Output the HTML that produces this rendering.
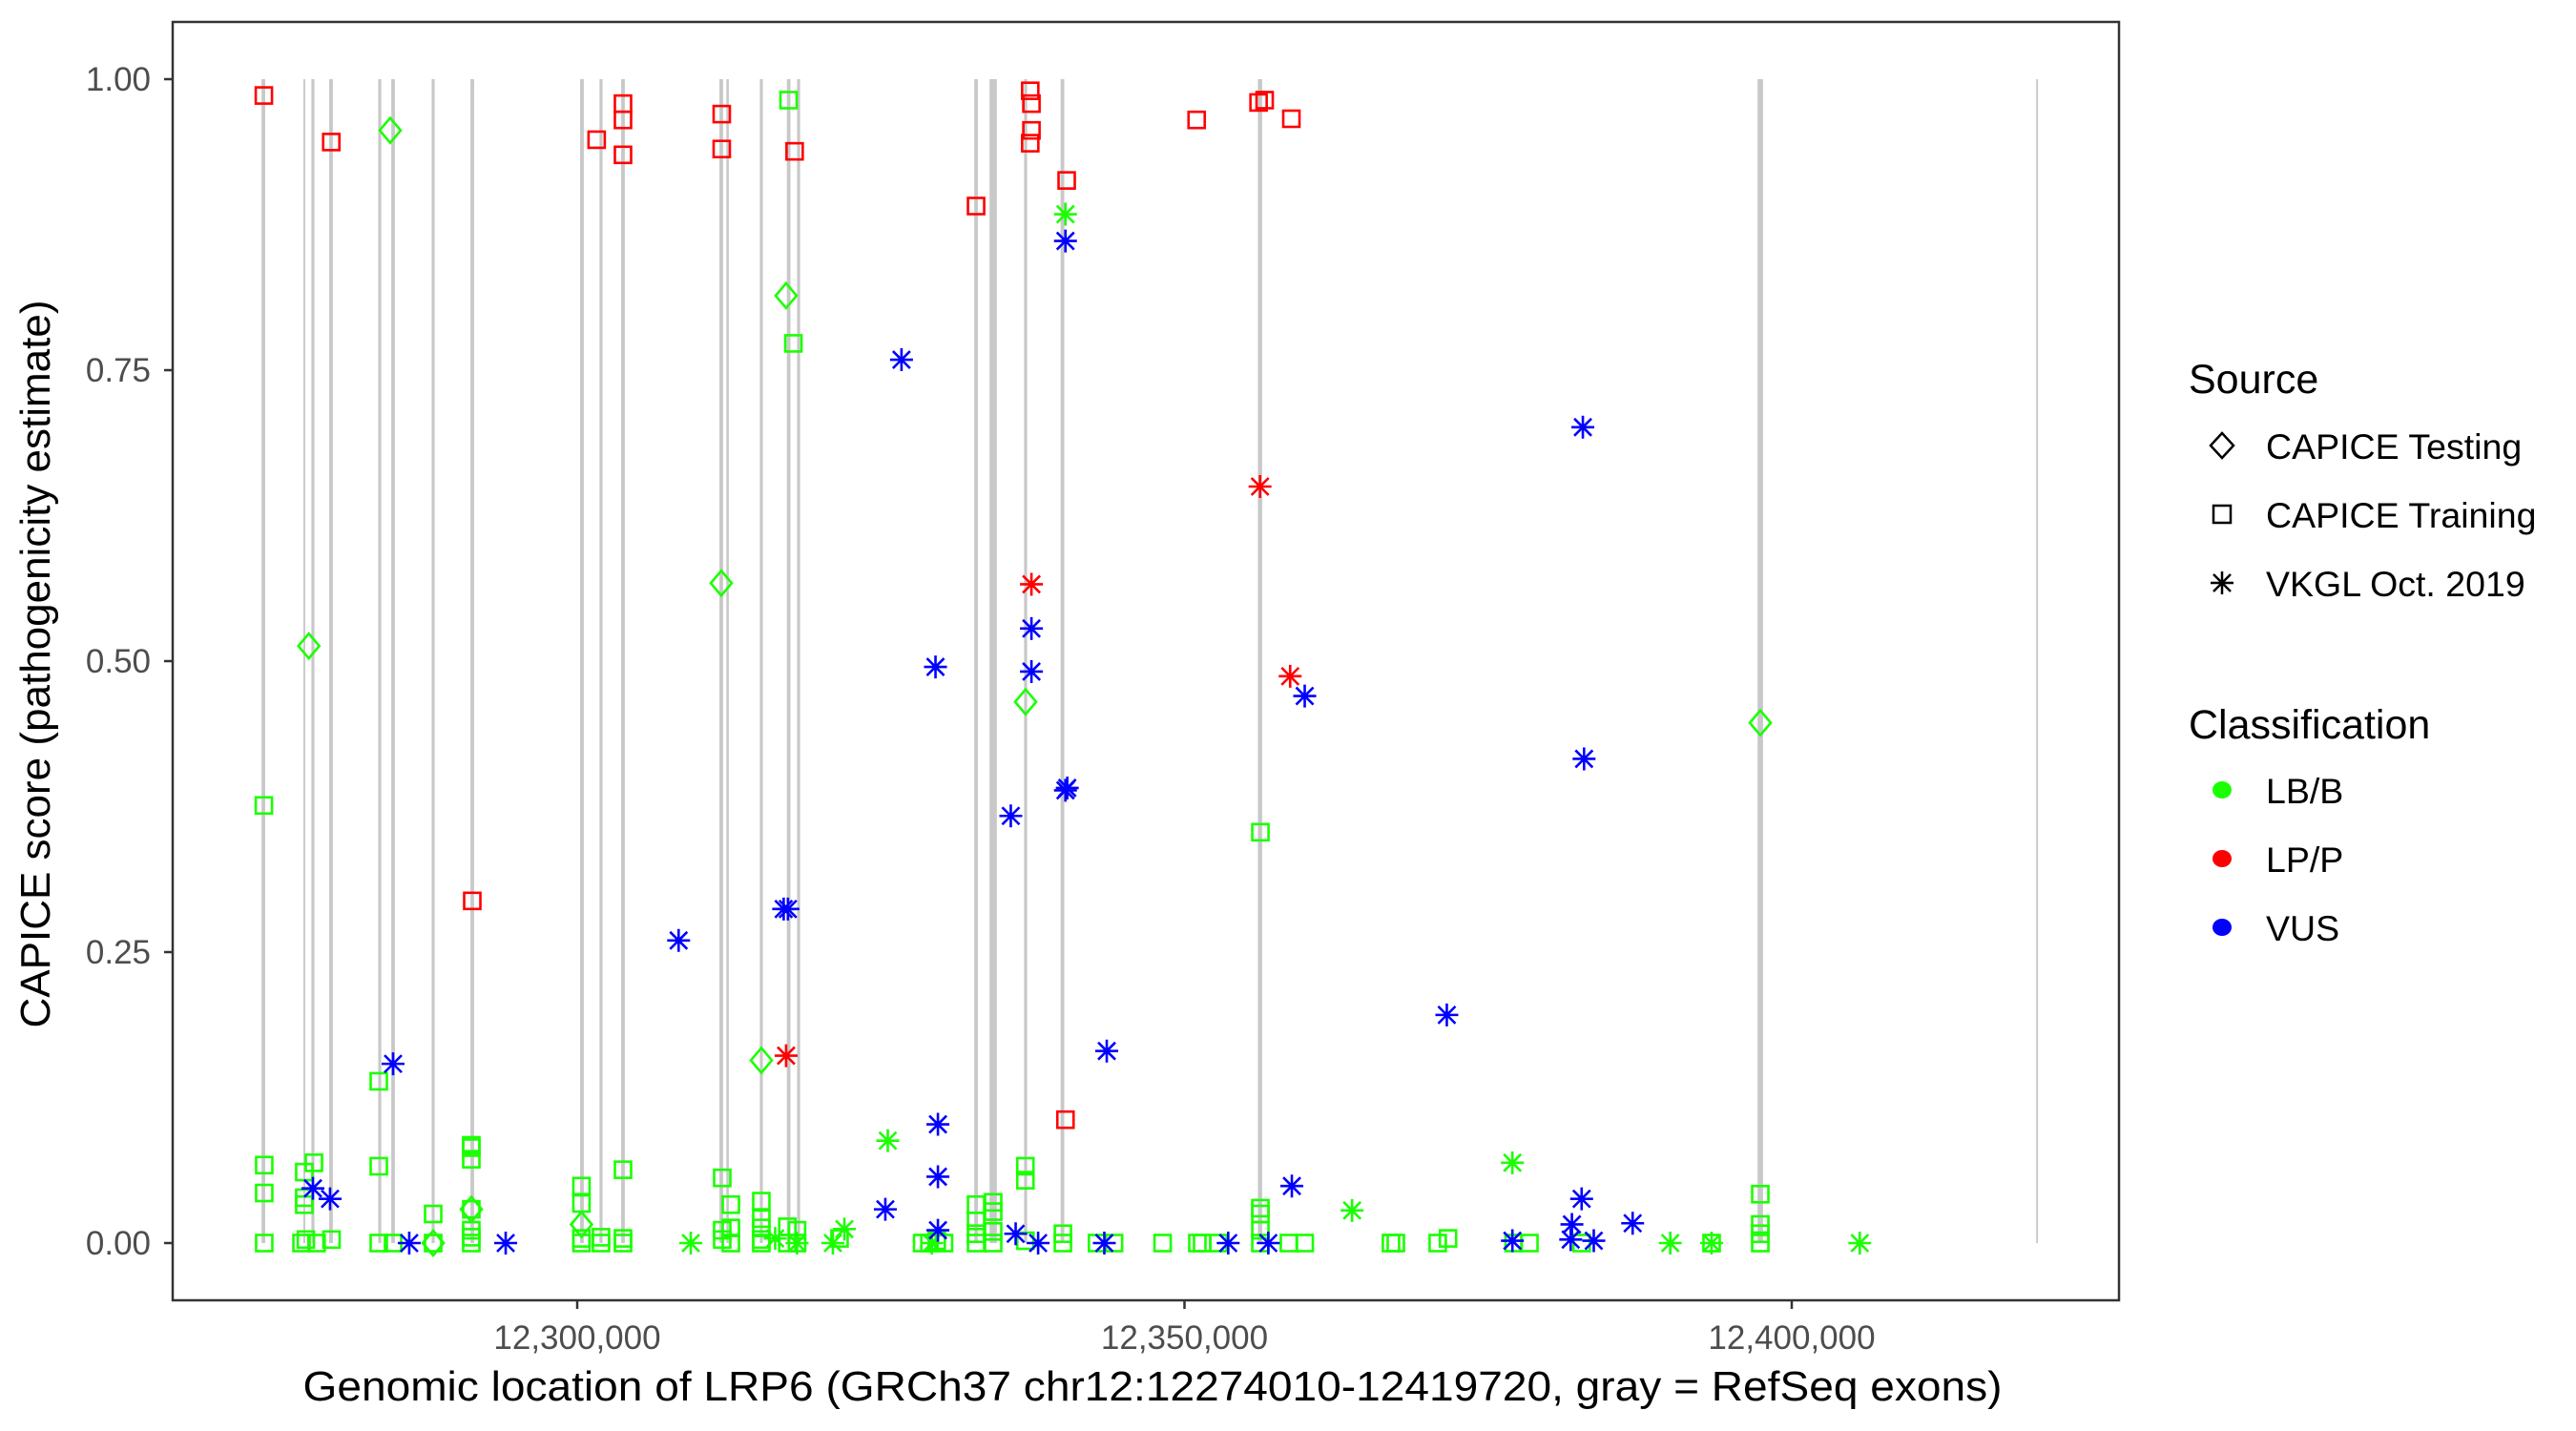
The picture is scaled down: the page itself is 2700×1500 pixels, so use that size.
<!DOCTYPE html>
<html><head><meta charset="utf-8"><style>
html,body{margin:0;padding:0;background:#fff}
svg{display:block;font-family:"Liberation Sans",sans-serif}
</style></head><body>
<svg id="chart" width="2700" height="1500" viewBox="0 0 2700 1500">
<rect x="0" y="0" width="2700" height="1500" fill="#fff"/>
<g id="exons"></g>
<g id="points"></g>
<rect x="181" y="23" width="2040" height="1340" fill="none" stroke="#333" stroke-width="2.5"/>
<g id="yaxis"></g>
<g id="xaxis"></g>
<text x="0" y="0" transform="translate(52,696) rotate(-90)" text-anchor="middle" font-size="44" fill="#000">CAPICE score (pathogenicity estimate)</text>
<text x="1208" y="1468" text-anchor="middle" font-size="44" fill="#000" textLength="1781" lengthAdjust="spacingAndGlyphs">Genomic location of LRP6 (GRCh37 chr12:12274010-12419720, gray = RefSeq exons)</text>
<g>
<text x="2294" y="412" font-size="43" fill="#000">Source</text>
<g><path d="M2329,454 L2341,467 L2329,480 L2317,467 Z" fill="none" stroke="#000" stroke-width="2.5"/><text x="2375" y="481" font-size="37.5">CAPICE Testing</text></g>
<g><rect x="2320" y="530" width="18" height="18" fill="none" stroke="#000" stroke-width="2.5"/><text x="2375" y="553" font-size="37.5">CAPICE Training</text></g>
<g><path d="M2317,611 H2341 M2329,599 V623 M2320,602 L2338,620 M2338,602 L2320,620" stroke="#000" stroke-width="2.5"/><text x="2375" y="625" font-size="37.5">VKGL Oct. 2019</text></g>
<text x="2294" y="774" font-size="43" fill="#000">Classification</text>
<g><ellipse cx="2329" cy="828" rx="10" ry="9" fill="#1aff00"/><text x="2375" y="842" font-size="37.5">LB/B</text></g>
<g><ellipse cx="2329" cy="900" rx="10" ry="9" fill="#ff0000"/><text x="2375" y="914" font-size="37.5">LP/P</text></g>
<g><ellipse cx="2329" cy="972" rx="10" ry="9" fill="#0000ff"/><text x="2375" y="986" font-size="37.5">VUS</text></g>
</g>
</svg>
<script>
// ---- data (genomic position in kb, CAPICE score) ----
const exonPos = [12274.16,12277.53,12278.24,12279.73,12283.74,12284.84,12288.14,12291.36,12300.39,12301.96,12303.77,12311.86,12312.38,12315.16,12317.41,12318.23,12332.84,12334.1,12334.4,12336.92,12339.95,12356.22,12397.41,12420.2];
const exonLen = [0.3,0.15,0.25,0.3,0.25,0.3,0.25,0.3,0.3,0.25,0.3,0.3,0.2,0.25,0.3,0.25,0.3,0.3,0.3,0.25,0.3,0.35,0.45,0.15];
const xTicks = [12300000,12350000,12400000];
const xTickLabels = ["12,300,000","12,350,000","12,400,000"];
const yTicks = [0,0.25,0.5,0.75,1];
const yTickLabels = ["0.00","0.25","0.50","0.75","1.00"];

const trainLBBPos = [12317.4,12317.8,12274.2,12283.66,12356.25,12274.23,12274.23,12274.23,12277.53,12278.32,12277.53,12277.53,12277.30,12277.66,12278.54,12279.77,12283.66,12283.66,12284.84,12288.14,12288.14,12291.28,12291.28,12291.28,12291.28,12291.28,12291.28,12291.28,12300.35,12300.35,12300.35,12300.35,12301.96,12301.96,12303.77,12303.77,12303.77,12311.94,12311.94,12311.94,12312.65,12312.65,12312.65,12315.16,12315.16,12315.16,12315.16,12315.16,12317.3,12318.1,12317.3,12318.1,12321.6,12328.4,12329.0,12329.6,12330.2,12332.84,12332.84,12332.84,12332.84,12334.25,12334.25,12334.25,12334.25,12336.9,12336.9,12336.9,12339.99,12339.99,12342.8,12344.2,12348.2,12351.06,12351.45,12352.8,12356.25,12356.25,12356.25,12356.25,12358.6,12359.9,12367.0,12367.4,12370.85,12371.7,12377.1,12378.4,12382.7,12393.4,12397.41,12397.41,12397.41,12397.41];
const trainLBBScore = [0.982,0.773,0.376,0.139,0.353,0.067,0.043,0,0.061,0.069,0.039,0.033,0,0.003,0,0.003,0.066,0,0,0.025,0,0.084,0.082,0.072,0.029,0.011,0.005,0,0.049,0.034,0.004,0,0.005,0,0.063,0.004,0,0.056,0.011,0.003,0.033,0.013,0,0.036,0.021,0.013,0.003,0,0.014,0.011,0,0,0.004,0,0,0.002,0,0.033,0.019,0.008,0,0.035,0.027,0.010,0,0.066,0.054,0.002,0.008,0,0,0,0,0,0,0,0.030,0.025,0.011,0,0,0,0,0,0,0.004,0,0,0,0,0.042,0.016,0.008,0];

const trainLPPPos = [12274.2,12279.75,12301.6,12303.77,12303.77,12303.77,12311.9,12311.9,12317.9,12332.84,12337.3,12337.4,12337.4,12337.3,12340.3,12351.0,12356.1,12356.6,12358.8,12291.36,12340.2];
const trainLPPScore = [0.986,0.946,0.948,0.979,0.965,0.935,0.970,0.940,0.938,0.891,0.990,0.979,0.956,0.945,0.913,0.965,0.980,0.982,0.966,0.294,0.106];

const testLBBPos = [12284.6,12277.9,12311.86,12317.2,12315.16,12336.92,12397.41,12291.28,12288.14,12300.35];
const testLBBScore = [0.956,0.513,0.567,0.814,0.157,0.465,0.447,0.029,0,0.016];

const vkglLBBPos = [12340.2,12325.57,12322.0,12321.05,12309.35,12316.3,12318.1,12329.2,12363.8,12377.0,12390.0,12393.4,12405.6];
const vkglLBBScore = [0.884,0.088,0.012,0,0,0.004,0,0,0.028,0.069,0,0,0];

const vkglLPPPos = [12317.2,12337.4,12356.22,12358.7];
const vkglLPPScore = [0.161,0.566,0.650,0.487];

const vkglVUSPos = [12284.84,12278.24,12279.65,12286.17,12294.11,12308.35,12317.0,12317.35,12326.7,12329.5,12335.7,12337.4,12337.4,12340.2,12340.2,12340.35,12343.6,12329.7,12329.7,12325.37,12329.7,12336.1,12337.95,12343.4,12353.6,12356.9,12358.84,12359.9,12371.6,12377.0,12382.8,12382.9,12382.7,12381.9,12381.8,12383.7,12386.9];
const vkglVUSScore = [0.154,0.047,0.038,0,0,0.260,0.287,0.287,0.759,0.495,0.367,0.528,0.491,0.861,0.389,0.391,0.165,0.102,0.057,0.029,0.011,0.008,0,0,0,0,0.049,0.470,0.196,0.002,0.701,0.416,0.038,0.016,0.003,0.002,0.017];

// ---- scales ----
const NS = "http://www.w3.org/2000/svg";
function xScale(kb){ return 605 + (kb - 12300) * 12.73; }
function yScale(v){ return 1303 - v * 1220; }
function mk(tag, attrs, parent){ const e=document.createElementNS(NS,tag); for(const k in attrs) e.setAttribute(k,attrs[k]); parent.appendChild(e); return e; }

// exons
const gEx = document.getElementById('exons');
exonPos.forEach((p,i)=>{
  const w = Math.max(exonLen[i]*12.73, 1.8);
  const r = mk('rect',{x:xScale(p)-w/2,y:yScale(1),width:w,height:yScale(0)-yScale(1),fill:'#c8c8c8'},gEx);
  
  
});

// axes
const gy = document.getElementById('yaxis');
yTicks.forEach((t,i)=>{
  const y=yScale(t);
  const l=mk('line',{x1:172,x2:181,y1:y,y2:y,stroke:'#333','stroke-width':2.5},gy);
  
  
  const tx=mk('text',{x:158,y:y+12,'text-anchor':'end','font-size':35,fill:'#4d4d4d'},gy);
  tx.textContent=yTickLabels[i];
  
  
});
const gx = document.getElementById('xaxis');
xTicks.forEach((t,i)=>{
  const x=xScale(t/1000);
  const l=mk('line',{x1:x,x2:x,y1:1363,y2:1372,stroke:'#333','stroke-width':2.5},gx);
  
  
  const tx=mk('text',{x:x,y:1414,'text-anchor':'middle','font-size':35,fill:'#4d4d4d'},gx);
  tx.textContent=xTickLabels[i];
  
  
});

// points
const gp = document.getElementById('points');
const COL = {lbb:'#1aff00', lpp:'#ff0000', vus:'#0000ff'};
function square(x,y,c){ return mk('rect',{x:x-8.5,y:y-8.5,width:17,height:17,fill:'none',stroke:c,'stroke-width':2.6},gp); }
function diamond(x,y,c){ return mk('path',{d:`M${x},${y-13} L${x+11},${y} L${x},${y+13} L${x-11},${y} Z`,fill:'none',stroke:c,'stroke-width':2.6},gp); }
function star(x,y,c){ const s=12, d=9; return mk('path',{d:`M${x-s},${y} H${x+s} M${x},${y-s} V${y+s} M${x-d},${y-d} L${x+d},${y+d} M${x+d},${y-d} L${x-d},${y+d}`,fill:'none',stroke:c,'stroke-width':2.6},gp); }
function drawSet(pos,score,fn,color,name){
  pos.forEach((p,i)=>{
    const e=fn(xScale(p),yScale(score[i]),color);
    
    
  });
}
drawSet(trainLBBPos,trainLBBScore,square,COL.lbb,'training-lbb-point');
drawSet(trainLPPPos,trainLPPScore,square,COL.lpp,'training-lpp-point');
drawSet(testLBBPos,testLBBScore,diamond,COL.lbb,'testing-lbb-point');
drawSet(vkglLBBPos,vkglLBBScore,star,COL.lbb,'vkgl-lbb-point');
drawSet(vkglLPPPos,vkglLPPScore,star,COL.lpp,'vkgl-lpp-point');
drawSet(vkglVUSPos,vkglVUSScore,star,COL.vus,'vkgl-vus-point');
</script>
</body></html>
